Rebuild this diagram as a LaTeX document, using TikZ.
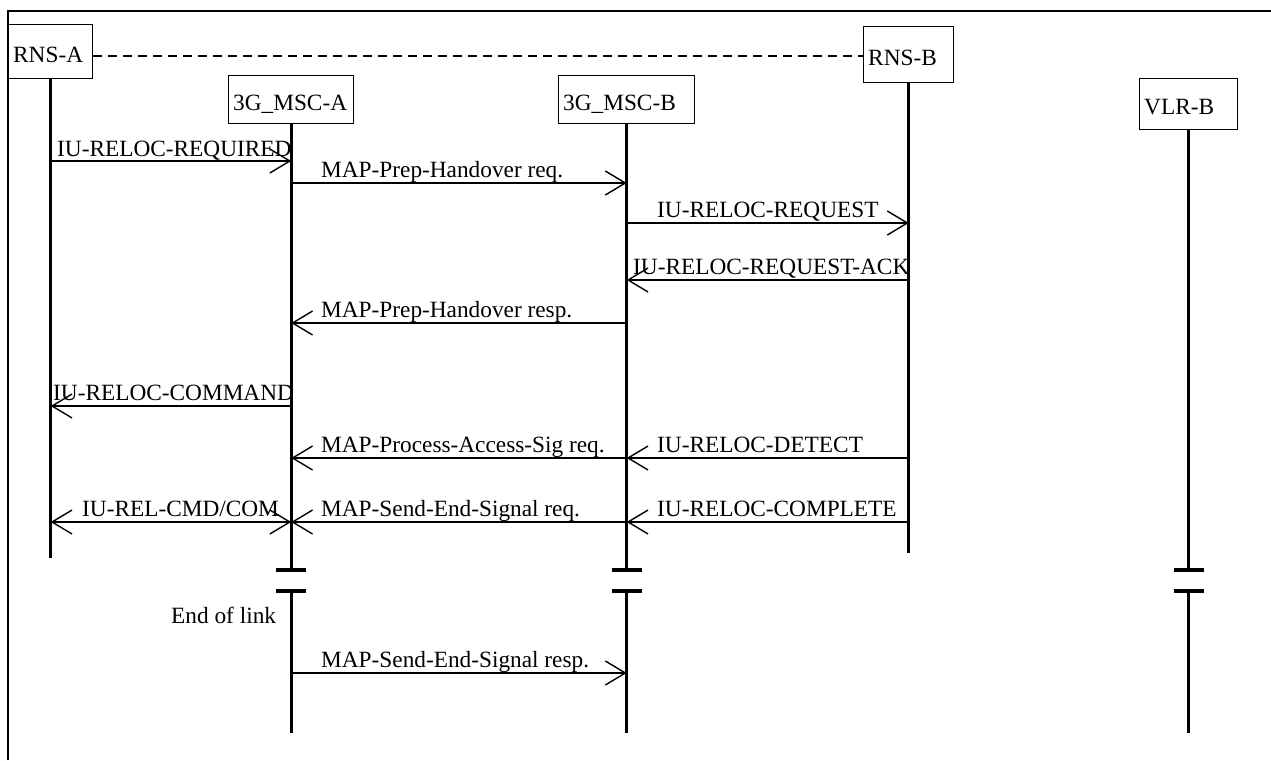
\documentclass[tikz,border=0pt]{standalone}
\usepackage{fontspec}
\setmainfont{Liberation Serif}
\usetikzlibrary{arrows.meta}
\begin{document}
\begin{tikzpicture}[x=1pt,y=-1pt,
  txt/.style={font=\fontsize{23.3}{27}\selectfont},
  ent/.style={txt, draw, line width=1.4pt, anchor=north west, inner xsep=4.5pt, inner ysep=0pt, align=left, text height=21pt, text depth=0pt},
  life/.style={line width=3pt},
  msg/.style={line width=1.4pt},
  >={Straight Barb[length=20pt,width=24pt,line width=1.4pt]},
  lbl/.style={txt, anchor=base west, inner sep=0pt},
  brk/.style={line width=3.5pt}]
\useasboundingbox (0,0) rectangle (1271,760);
% frame
\draw[line width=1.4pt] (8,760) -- (8,11) -- (1271,11);
% entities
\node[ent, minimum width=84pt, text width=75pt, minimum height=54pt] (rnsA) at (8,24) {RNS-A};
\node[ent, minimum width=125pt, text width=116pt, minimum height=48pt] (mscA) at (228,75) {3G\_MSC-A};
\node[ent, minimum width=136pt, text width=127pt, minimum height=48pt] (mscB) at (558,75) {3G\_MSC-B};
\node[ent, minimum width=90pt, text width=81pt, minimum height=56pt] (rnsB) at (863,26) {RNS-B};
\node[ent, minimum width=98pt, text width=89pt, minimum height=51pt] (vlrB) at (1139,78) {VLR-B};
% dashed link
\coordinate (dy) at (0,56);
\draw[line width=1.4pt, dash pattern=on 9pt off 6pt] (rnsA.east |- dy) -- (rnsB.west |- dy);
% lifeline ends
\coordinate (brkA) at (0,570);
\coordinate (brkB) at (0,591);
\coordinate (endS) at (0,733);
\coordinate (endRA) at (0,558);
\coordinate (endRB) at (0,553);
\draw[life] (rnsA.south) -- (rnsA |- endRA);
\draw[life] (rnsB.south) -- (rnsB |- endRB);
\foreach \n in {mscA,mscB,vlrB}{
  \draw[life] (\n.south) -- (\n |- brkA);
  \draw[life] (\n |- brkB) -- (\n |- endS);
  \draw[brk] ([xshift=-15pt]\n |- brkA) -- ([xshift=15pt]\n |- brkA);
  \draw[brk] ([xshift=-15pt]\n |- brkB) -- ([xshift=15pt]\n |- brkB);
}
% message rows
\coordinate (m1) at (0,161);
\coordinate (m2) at (0,183);
\coordinate (m3) at (0,223);
\coordinate (m4) at (0,280);
\coordinate (m5) at (0,323);
\coordinate (m6) at (0,406);
\coordinate (m7) at (0,458);
\coordinate (m8) at (0,522);
\coordinate (m9) at (0,673);
\draw[msg,->] (rnsA |- m1) -- (mscA |- m1);
\draw[msg,->] (mscA |- m2) -- (mscB |- m2);
\draw[msg,->] (mscB |- m3) -- (rnsB |- m3);
\draw[msg,->] (rnsB |- m4) -- (mscB |- m4);
\draw[msg,->] (mscB |- m5) -- (mscA |- m5);
\draw[msg,->] (mscA |- m6) -- (rnsA |- m6);
\draw[msg,->] (mscB |- m7) -- (mscA |- m7);
\draw[msg,->] (rnsB |- m7) -- (mscB |- m7);
\draw[msg,<->] (rnsA |- m8) -- (mscA |- m8);
\draw[msg,->] (mscB |- m8) -- (mscA |- m8);
\draw[msg,->] (rnsB |- m8) -- (mscB |- m8);
\draw[msg,->] (mscA |- m9) -- (mscB |- m9);
% labels
\node[lbl] (l1) at (57,156) {IU-RELOC-REQUIRED};
\node[lbl] (l2) at (321,177) {MAP-Prep-Handover req.};
\node[lbl] (l3) at (657,217) {IU-RELOC-REQUEST};
\node[lbl] (l4) at (633,274) {IU-RELOC-REQUEST-ACK};
\node[lbl] (l5) at (321,317) {MAP-Prep-Handover resp.};
\node[lbl] (l6) at (53,400) {IU-RELOC-COMMAND};
\node[lbl] (l7a) at (321,452) {MAP-Process-Access-Sig req.};
\node[lbl] (l7b) at (657,452) {IU-RELOC-DETECT};
\node[lbl] (l8a) at (82,516) {IU-REL-CMD/COM};
\node[lbl] (l8b) at (321,516) {MAP-Send-End-Signal req.};
\node[lbl] (l8c) at (657,516) {IU-RELOC-COMPLETE};
\node[lbl] (eol) at (171,623) {End of link};
\node[lbl] (l9) at (321,667) {MAP-Send-End-Signal resp.};
\end{tikzpicture}
\end{document}
